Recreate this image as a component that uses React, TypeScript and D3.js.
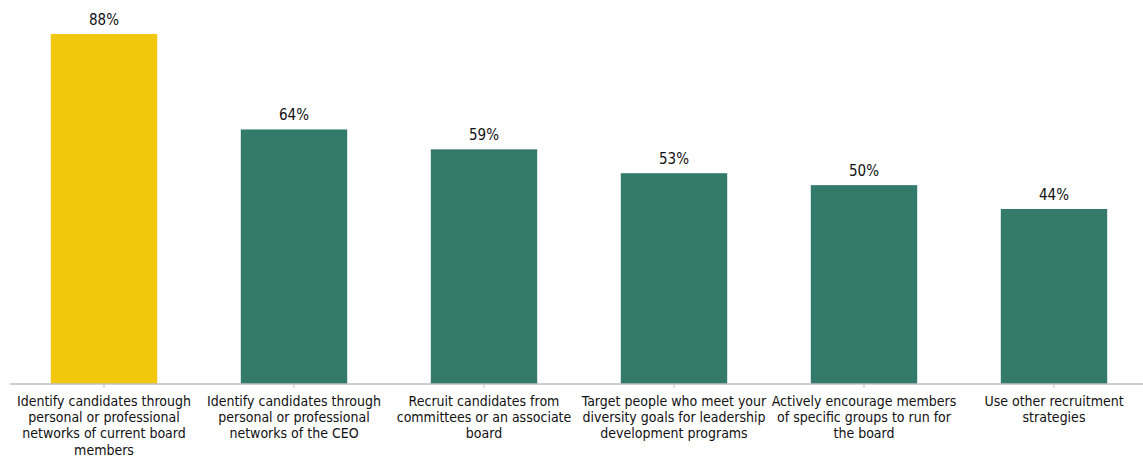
import React from "react";
import * as d3 from "d3";

const categories: string[][] = [
  ["Identify candidates through", "personal or professional", "networks of current board", "members"],
  ["Identify candidates through", "personal or professional", "networks of the CEO"],
  ["Recruit candidates from", "committees or an associate", "board"],
  ["Target people who meet your", "diversity goals for leadership", "development programs"],
  ["Actively encourage members", "of specific groups to run for", "the board"],
  ["Use other recruitment", "strategies"],
];
const values: number[] = [0.88, 0.64, 0.59, 0.53, 0.5, 0.44];
const highlight: boolean[] = [true, false, false, false, false, false];

const W = 1143;
const H = 457;
const FONT = "'DejaVu Sans Condensed', 'DejaVu Sans', sans-serif";

export default function App() {
  const idx = values.map((_, i) => String(i));
  const x = d3.scaleBand<string>().domain(idx).range([9, 1149]).paddingInner(0.44).paddingOuter(0.22);
  const y = d3.scaleLinear().domain([0, 0.88]).range([384, 34]);
  const fmt = d3.format(".0%");
  return (
    <svg width={W} height={H} style={{ position: "absolute", left: 0, top: 0 }}>
      {values.map((v, i) => (
        <g key={i}>
          <rect
            x={x(String(i))}
            y={y(v)}
            width={x.bandwidth()}
            height={y(0) - y(v)}
            fill={highlight[i] ? "#F2C80F" : "#337A6B"}
          />
          <text
            x={(x(String(i)) as number) + x.bandwidth() / 2}
            y={y(v) - 9}
            textAnchor="middle"
            fontFamily={FONT}
            fontSize={15}
            fill="#111"
          >
            {fmt(v)}
          </text>
        </g>
      ))}
      <line x1={10} x2={W} y1={y(0)} y2={y(0)} stroke="#BFBFBF" strokeWidth={1.5} />
      {values.map((_, i) => {
        const cx = (x(String(i)) as number) + x.bandwidth() / 2;
        return (
          <g key={"t" + i}>
            <line x1={cx} x2={cx} y1={y(0)} y2={y(0) + 4} stroke="#BFBFBF" />
            <text textAnchor="middle" fontFamily={FONT} fontSize={14} fill="#111">
              {categories[i].map((line, j) => (
                <tspan key={j} x={cx} y={406 + j * 16.2}>
                  {line}
                </tspan>
              ))}
            </text>
          </g>
        );
      })}
    </svg>
  );
}
